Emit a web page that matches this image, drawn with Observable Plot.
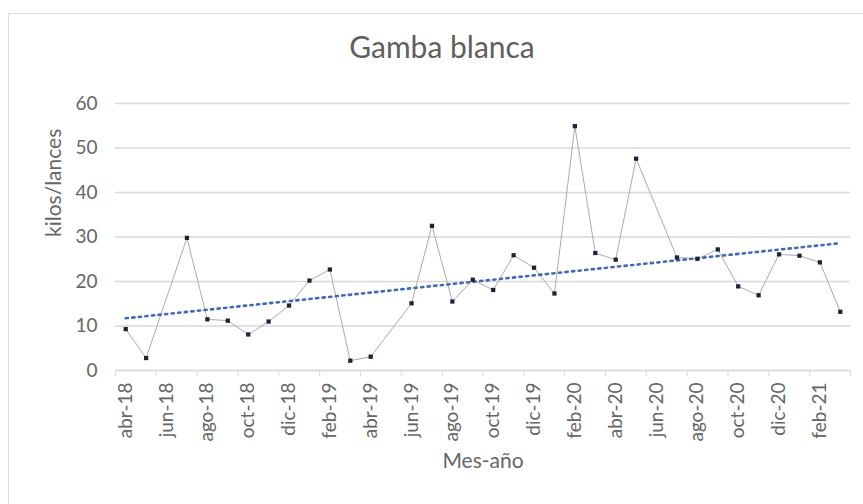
<!DOCTYPE html>
<html>
<head>
<meta charset="utf-8">
<script src="https://cdn.jsdelivr.net/npm/d3@7"></script>
<script src="https://cdn.jsdelivr.net/npm/@observablehq/plot@0.6"></script>
<style>
  body { margin: 0; background: #fff; }
  #wrap { position: relative; width: 863px; height: 504px; overflow: hidden; background: #fff; }
  #frame { position: absolute; left: 8px; top: 13px; width: 880px; height: 520px; border: 1.5px solid #dcdcdc; box-sizing: border-box; }
  #title { position: absolute; left: 0; width: 884px; top: 28px; text-align: center; font-family: Lato, "Open Sans", sans-serif; font-size: 30px; color: #5f5f5f; line-height: 36px; }
  #chart { position: absolute; left: 0; top: 0; }
</style>
</head>
<body>
<div id="wrap">
  <div id="frame"></div>
  <div id="title">Gamba blanca</div>
  <div id="chart"></div>
</div>
<script>
const months = ["abr-18","may-18","jun-18","jul-18","ago-18","sep-18","oct-18","nov-18","dic-18",
  "ene-19","feb-19","mar-19","abr-19","may-19","jun-19","jul-19","ago-19","sep-19","oct-19","nov-19","dic-19",
  "ene-20","feb-20","mar-20","abr-20","may-20","jun-20","jul-20","ago-20","sep-20","oct-20","nov-20","dic-20",
  "ene-21","feb-21","mar-21"];
const values = [9.3, 2.8, null, 29.8, 11.5, 11.2, 8.1, 11.0, 14.6,
  20.2, 22.7, 2.2, 3.1, null, 15.1, 32.5, 15.5, 20.4, 18.1, 25.9, 23.1,
  17.3, 54.9, 26.4, 24.9, 47.6, null, 25.4, 25.1, 27.2, 18.9, 16.9, 26.1,
  25.8, 24.3, 13.2];
const yTicks = [0, 10, 20, 30, 40, 50, 60];

const data = months.map((m, i) => ({i, month: m, v: values[i]})).filter(d => d.v != null);
const labelIdx = months.map((m, i) => i).filter(i => i % 2 === 0);
const boundaries = months.map((m, i) => i - 0.5).filter((b, k) => k % 2 === 0).concat([months.length - 0.5]);

const textColor = "#666666";
const chart = Plot.plot({
  width: 863,
  height: 504,
  marginTop: 103,
  marginBottom: 134,
  marginLeft: 115,
  marginRight: 13,
  style: {fontFamily: "Lato, 'Open Sans', sans-serif", fontSize: "19px", color: textColor, background: "transparent"},
  x: {type: "linear", domain: [-0.5, months.length - 0.5]},
  y: {domain: [0, 60]},
  marks: [
    Plot.gridY(yTicks, {stroke: "#d9d9d9", strokeOpacity: 1, strokeWidth: 1.3}),
    Plot.axisY(yTicks, {tickSize: 0, tickPadding: 18, label: null, fill: textColor}),
    Plot.axisX(boundaries, {tickSize: 6, tickFormat: () => "", stroke: "#d9d9d9", label: null}),
    Plot.axisX(labelIdx, {tickSize: 0, tickPadding: 12, tickRotate: -90, tickFormat: i => months[i], label: null, fill: textColor}),
    Plot.ruleY([0], {stroke: "#d9d9d9", strokeWidth: 1.3}),
    Plot.line(data, {x: "i", y: "v", stroke: "#ababab", strokeWidth: 1}),
    Plot.linearRegressionY(data, {x: "i", y: "v", ci: 0, stroke: "#4169b8", strokeWidth: 2.6, strokeDasharray: "2.2,4.4"}),
    Plot.dot(data, {x: "i", y: "v", symbol: "square", r: 2.4, fill: "#1e2235", stroke: "none"}),
    Plot.text(["kilos/lances"], {frameAnchor: "left", dx: -61, rotate: -90, fontSize: 21, fill: textColor}),
    Plot.text(["Mes-año"], {frameAnchor: "bottom", dy: 97, fontSize: 21, fill: textColor})
  ]
});
document.getElementById("chart").appendChild(chart);
</script>
</body>
</html>
